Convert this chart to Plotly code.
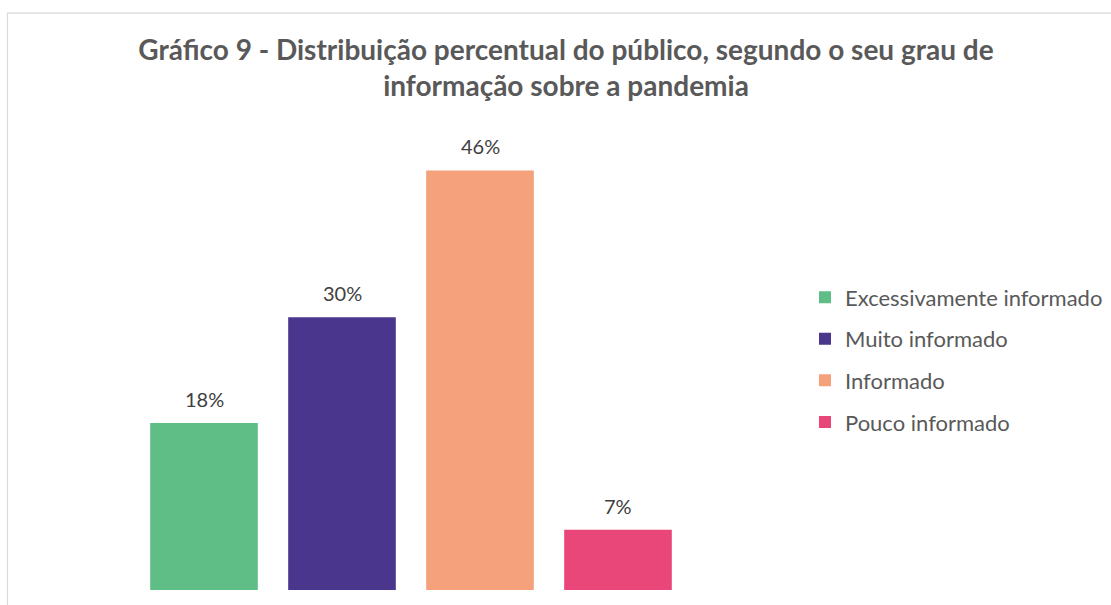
import plotly.graph_objects as go

categories = ["Excessivamente informado", "Muito informado", "Informado", "Pouco informado"]
values = [18.3, 29.9, 46.0, 6.6]
labels = ["18%", "30%", "46%", "7%"]
colors = ["#5FBD86", "#4B368E", "#F4A17C", "#E9467A"]

title_text = ("<b>Gráfico 9 - Distribuição percentual do público, segundo o seu grau de<br>"
              "informação sobre a pandemia</b>")

FONT = "Lato"

fig = go.Figure()
for cat, val, col in zip(categories, values, colors):
    fig.add_trace(go.Bar(
        x=[cat], y=[val], name=cat, marker=dict(color=col, line=dict(width=0)),
        width=0.78, legendgroup=cat, showlegend=True, hoverinfo="skip",
    ))

for cat, val, lab in zip(categories, values, labels):
    fig.add_annotation(x=cat, y=val, text=lab, showarrow=False, yanchor="bottom",
                       yshift=10, font=dict(family=FONT, size=20, color="#404040"))

l, r, t, b = 135, 424, 133.5, 15
W, H = 1111, 605
pw = W - l - r
ph = H - t - b

fig.add_shape(type="rect", xref="paper", yref="paper",
              x0=(7.5 - l) / pw, x1=(W + 20 - l) / pw,
              y0=(H - b - (H + 20)) / ph, y1=(H - b - 12.5) / ph,
              line=dict(color="#D9D9D9", width=1.2), fillcolor="rgba(0,0,0,0)", layer="below")

fig.update_layout(
    width=W, height=H,
    barmode="overlay",
    margin=dict(l=l, r=r, t=t, b=b, autoexpand=False),
    paper_bgcolor="white", plot_bgcolor="white",
    title=dict(text=title_text, x=566 / W, xanchor="center", y=1 - 60 / H, yanchor="middle",
               font=dict(family=FONT, size=28, color="#595959")),
    xaxis=dict(showgrid=False, zeroline=False, showticklabels=False, showline=False,
               range=[-0.5, 3.5], fixedrange=True),
    yaxis=dict(showgrid=False, zeroline=False, showticklabels=False, showline=False,
               range=[0, 50], fixedrange=True),
    legend=dict(x=(805 - l) / pw, xanchor="left", y=(H - b - 276) / ph, yanchor="top",
                font=dict(family=FONT, size=22, color="#595959"),
                tracegroupgap=10, itemwidth=30, bgcolor="rgba(0,0,0,0)"),
    showlegend=True,
)

fig.write_html("out.html", post_script="document.body.style.margin='0';",
               config={"displayModeBar": False})
